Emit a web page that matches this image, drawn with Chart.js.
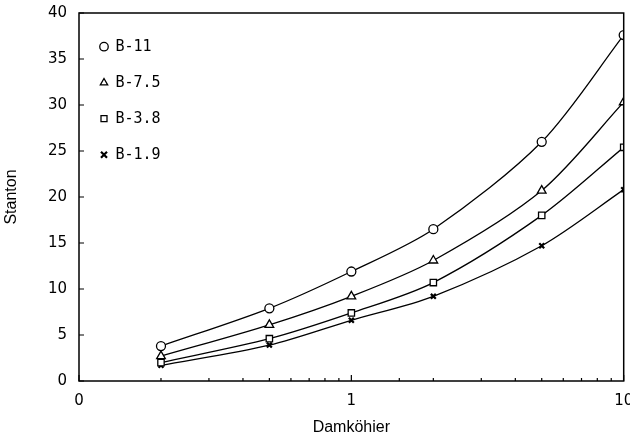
<!DOCTYPE html>
<html>
<head>
<meta charset="utf-8">
<script src="https://cdn.jsdelivr.net/npm/chart.js@4"></script>
<style>
html,body{margin:0;padding:0;background:#fff;}
#wrap{width:630px;height:441px;position:relative;}
</style>
</head>
<body>
<div id="wrap"><canvas id="c" width="630" height="441"></canvas></div>
<script>
const damkohler = [0.2, 0.5, 1, 2, 5, 10];
const seriesNames = ['B-11', 'B-7.5', 'B-3.8', 'B-1.9'];
const b11 = [3.8, 7.9, 11.9, 16.5, 26.0, 37.6];
const b75 = [2.7, 6.1, 9.2, 13.1, 20.7, 30.3];
const b38 = [2.0, 4.6, 7.4, 10.7, 18.0, 25.4];
const b19 = [1.7, 3.9, 6.6, 9.2, 14.7, 20.8];
const xTickLabels = {0.1: '0', 1: '1', 10: '10'};
const yTicks = [0, 5, 10, 15, 20, 25, 30, 35, 40];

const styles = [
  {pointStyle: 'circle', r: 4.5},
  {pointStyle: 'triangle', r: 5},
  {pointStyle: 'rect', r: 4.5},
  {pointStyle: 'crossRot', r: 3.5}
];
const values = [b11, b75, b38, b19];

const datasets = values.map((v, i) => ({
  label: seriesNames[i],
  data: damkohler.map((x, j) => ({x: x, y: v[j]})),
  borderColor: '#000',
  backgroundColor: '#fff',
  borderWidth: 1.3,
  pointStyle: styles[i].pointStyle,
  pointRadius: styles[i].r,
  pointBorderWidth: i === 3 ? 2.2 : 1.3,
  pointBackgroundColor: '#fff',
  pointBorderColor: '#000',
  tension: 0.3,
  fill: false
}));

const frame = {
  id: 'frame',
  afterDatasetsDraw(chart) {
    const ctx = chart.ctx, a = chart.chartArea;
    const xs = chart.scales.x, ys = chart.scales.y;
    ctx.save();
    ctx.strokeStyle = '#000';
    ctx.lineWidth = 1.5;
    ctx.strokeRect(a.left, a.top, a.right - a.left, a.bottom - a.top);
    ctx.lineWidth = 1.2;
    ctx.beginPath();
    xs.ticks.forEach(t => {
      const px = xs.getPixelForValue(t.value);
      const major = xTickLabels[t.value] !== undefined;
      ctx.moveTo(px, a.bottom);
      ctx.lineTo(px, a.bottom - (major ? 6 : 3));
    });
    ys.ticks.forEach(t => {
      const py = ys.getPixelForValue(t.value);
      ctx.moveTo(a.left, py);
      ctx.lineTo(a.left + 5, py);
    });
    ctx.stroke();
    ctx.restore();
  }
};

new Chart(document.getElementById('c'), {
  type: 'line',
  data: {datasets: datasets},
  options: {
    responsive: false,
    animation: false,
    layout: {padding: {top: 13, right: 5, left: 0, bottom: 0}},
    plugins: {
      legend: {
        position: 'chartArea',
        align: 'start',
        title: {display: true, text: ' ', font: {size: 1}, padding: {top: 0, bottom: 17}},
        labels: {
          usePointStyle: true,
          boxWidth: 8,
          boxHeight: 6,
          padding: 21,
          color: '#000',
          font: {family: 'DejaVu Sans Mono', size: 15}
        }
      },
      tooltip: {enabled: false}
    },
    scales: {
      x: {
        type: 'logarithmic',
        min: 0.1,
        max: 10,
        afterFit: (s) => { s.height = 60; s.paddingRight = 0; },
        grid: {display: false},
        border: {display: false},
        ticks: {
          autoSkip: false,
          maxRotation: 0,
          color: '#000',
          padding: 3,
          font: {family: 'DejaVu Sans', size: 15},
          callback: (v) => (xTickLabels[v] !== undefined ? xTickLabels[v] : '')
        },
        title: {display: true, text: 'Damköhier', color: '#000', padding: {top: 4, bottom: 4},
          font: {family: 'Liberation Sans', size: 16}}
      },
      y: {
        min: 0,
        max: 40,
        afterBuildTicks: (s) => { s.ticks = yTicks.map(v => ({value: v})); },
        afterFit: (s) => { s.width = 79; },
        grid: {display: false},
        border: {display: false},
        ticks: {
          color: '#000',
          padding: 4,
          font: {family: 'DejaVu Sans', size: 15}
        },
        title: {display: true, text: 'Stanton', color: '#000', padding: {top: 2, bottom: 30},
          font: {family: 'Liberation Sans', size: 16}}
      }
    }
  },
  plugins: [frame]
});
</script>
</body>
</html>
